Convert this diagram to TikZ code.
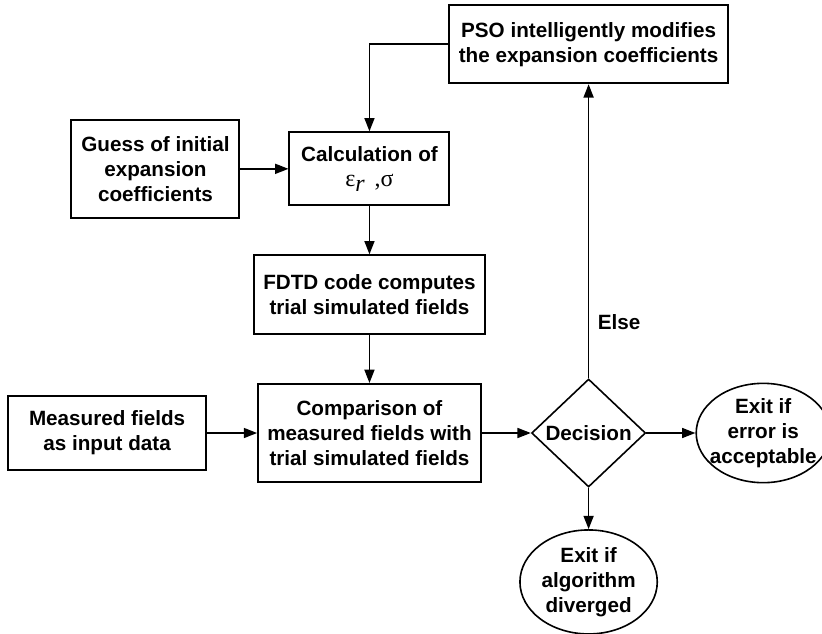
\documentclass[tikz,border=0pt]{standalone}
\usepackage{fontspec}
\setmainfont{Liberation Sans}
\newfontfamily\greekfont{Liberation Serif}
\usetikzlibrary{shapes.geometric, arrows.meta, positioning}

\begin{document}
\begin{tikzpicture}[
  font=\fontsize{15.5}{18.75}\selectfont\bfseries,
  process/.style={draw, rectangle, line width=1.5pt, align=center, inner sep=0pt},
  decision/.style={draw, diamond, line width=1.2pt, inner sep=0pt, minimum width=85.5pt, minimum height=81pt},
  exitnode/.style={draw, ellipse, line width=1.2pt, inner sep=0pt},
  arrow/.style={-{Triangle[length=10pt, width=7.5pt]}, line width=1.2pt}
]
  \useasboundingbox (0,0) rectangle (616.5pt,-474.75pt);

  \node (comp) [process, minimum width=167pt, minimum height=73.5pt] at (277.1pt,-324.75pt) {Comparison of\\measured fields with\\trial simulated fields};
  \node (fdtd) [process, minimum width=173pt, minimum height=59pt, above=36pt of comp] {FDTD code computes\\trial simulated fields};
  \node (calc) [process, minimum width=120pt, minimum height=54.75pt, above=36pt of fdtd] {Calculation of\\{\greekfont\mdseries\fontsize{18}{18}\selectfont ε\raisebox{-4pt}{\itshape r}\ \,,σ}};
  \node (guess) [process, minimum width=126pt, minimum height=73.5pt, left=36pt of calc] {Guess of initial\\expansion\\coefficients};
  \node (meas) [process, minimum width=148.5pt, minimum height=55.5pt, left=37.5pt of comp] {Measured fields\\as input data};
  \node (dec) [decision, right=36.75pt of comp] {Decision};
  \node (pso) [process, minimum width=209pt, minimum height=58.5pt, above=220.5pt of dec] {PSO intelligently modifies\\the expansion coefficients};
  \node (accept) [exitnode, minimum width=100.5pt, minimum height=74.5pt, right=36.75pt of dec,
    label={[align=center]center:Exit if\\error is\\acceptable}] {};
  \node (diverge) [exitnode, minimum width=103pt, minimum height=78pt, below=31pt of dec,
    label={[align=center]center:Exit if\\algorithm\\diverged}] {};

  \draw[arrow] (guess) -- (calc);
  \draw[arrow] (pso.west) -| (calc.north);
  \draw[arrow] (calc) -- (fdtd);
  \draw[arrow] (fdtd) -- (comp);
  \draw[arrow] (meas) -- (comp);
  \draw[arrow] (comp) -- (dec);
  \draw[arrow] (dec) -- (accept);
  \draw[arrow] (dec) -- (diverge);
  \draw[arrow] (dec.north) -- node[pos=0.19, right, xshift=3pt] {Else} (pso.south);
\end{tikzpicture}
\end{document}
